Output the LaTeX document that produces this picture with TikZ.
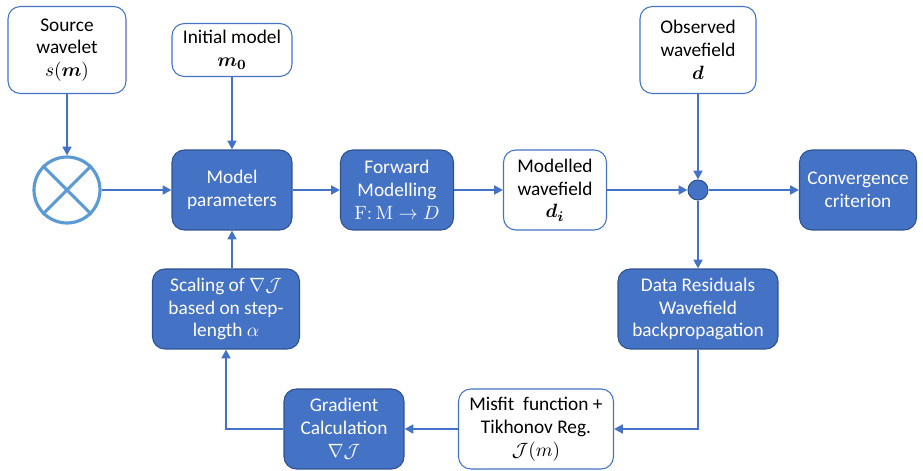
\documentclass[tikz,border=0pt]{standalone}
\usepackage{amsmath,bm}
\usepackage[no-math]{fontspec}
\setmainfont{Carlito}
\usetikzlibrary{arrows.meta}
\definecolor{boxblue}{HTML}{4472C4}
\definecolor{edgeblue}{HTML}{2F528F}
\definecolor{ringblue}{HTML}{5B9BD5}
\tikzset{
  darkbox/.style={draw=edgeblue, fill=boxblue, text=white, line width=0.6pt, rounded corners=7pt, align=center, inner sep=0pt},
  lightbox/.style={draw=boxblue, fill=white, text=black, line width=0.6pt, rounded corners=7pt, align=center, inner sep=0pt},
  flow/.style={draw=boxblue, line width=1.6pt, -{Triangle[length=5pt,width=5pt]}}
}
\begin{document}
\begin{tikzpicture}[x=0.02cm, y=-0.02cm, font=\fontsize{11}{13}\selectfont]
  \useasboundingbox (0,0) rectangle (923,470);
  % top row
  \node[lightbox, minimum width=2.36cm, minimum height=1.74cm] (SW) at (67,50) {Source\\wavelet\\$s(\bm{m})$};
  \node[lightbox, minimum width=2.4cm, minimum height=1.06cm] (IM) at (232,50) {Initial model\\$\bm{m_0}$};
  \node[lightbox, minimum width=2.32cm, minimum height=1.74cm] (OW) at (698,50) {Observed\\wavefield\\$\bm{d}$};
  % middle row
  \node[draw=ringblue, fill=white, line width=1.8pt, circle, minimum size=1.32cm] (X) at (67,190) {};
  \draw[ringblue, line width=1.8pt] (X.45) -- (X.225) (X.135) -- (X.315);
  \node[darkbox, minimum width=2.4cm, minimum height=1.6cm] (MP) at (232,190) {Model\\parameters};
  \node[darkbox, minimum width=2.26cm, minimum height=1.6cm] (FM) at (397,190) {Forward\\Modelling\\$\mathrm{F}{:}\,\mathrm{M}\rightarrow D$};
  \node[lightbox, minimum width=2.06cm, minimum height=1.6cm] (MW) at (555,190) {Modelled\\wavefield\\$\bm{d_i}$};
  \node[draw=edgeblue, fill=boxblue, line width=0.6pt, circle, minimum size=0.4cm, inner sep=0pt] (J) at (698,190) {};
  \node[darkbox, minimum width=2.34cm, minimum height=1.6cm] (CC) at (858,190) {Convergence\\criterion};
  % lower rows
  \node[darkbox, minimum width=2.94cm, minimum height=1.6cm] (SG) at (226,309) {Scaling of $\nabla\mathcal{J}$\\based on step-\\length $\alpha$};
  \node[darkbox, minimum width=3.2cm, minimum height=1.6cm] (DR) at (698,309) {Data Residuals\\Wavefield\\backpropagation};
  \node[darkbox, minimum width=2.4cm, minimum height=1.6cm] (GC) at (344,429) {Gradient\\Calculation\\$\nabla\mathcal{J}$};
  \node[lightbox, minimum width=3.1cm, minimum height=1.6cm] (MF) at (536,429) {Misfit\ \ function +\\Tikhonov Reg.\\$\mathcal{J}(m)$};

  \draw[flow] (SW) -- (X);
  \draw[flow] (X) -- (MP);
  \draw[flow] (IM) -- (MP);
  \draw[flow] (MP) -- (FM);
  \draw[flow] (FM) -- (MW);
  \draw[flow] (MW) -- (J);
  \draw[flow] (OW) -- (J);
  \draw[flow] (J) -- (CC);
  \draw[flow] (J) -- (DR);
  \draw[flow] (DR) |- (MF);
  \draw[flow] (MF) -- (GC);
  \draw[flow] (GC) -| (SG);
  \draw[flow] (SG.north -| MP) -- (MP);
\end{tikzpicture}
\end{document}
